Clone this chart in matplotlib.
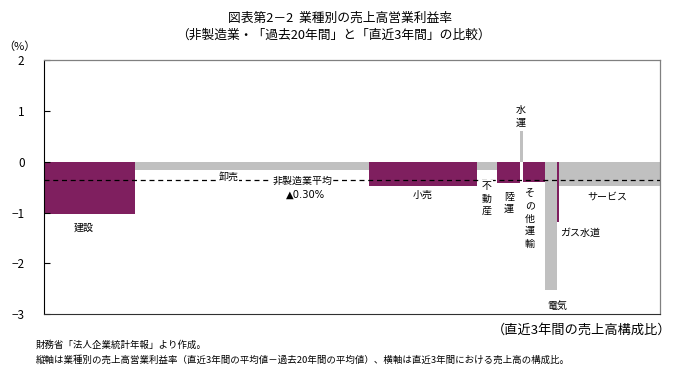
import matplotlib
matplotlib.use("Agg")
import numpy as np
import matplotlib.pyplot as plt

plt.rcParams["font.family"] = ["Noto Sans CJK JP", "DejaVu Sans"]

# ── DATA ──────────────────────────────────────────────────
industries = ["建設", "卸売", "小売", "不動産", "陸運", "水運", "その他運輸", "電気", "ガス水道", "サービス"]
sales_share = [14.7, 38.1, 17.5, 3.3, 3.6, 0.5, 3.7, 1.9, 0.3, 16.4]       # 直近3年間の売上高構成比 (%)
margin_diff = [-1.03, -0.165, -0.48, -0.165, -0.42, 0.60, -0.40, -2.53, -1.175, -0.47]
nonmfg_avg = -0.35
avg_label = "▲0.30%"

PURPLE = "#7f1f5f"
GRAY = "#c0c0c0"

# label placement (x in share %, y in %pt), vertical = one char per line
label_pos = {
    "建設": (6.5, -1.29, False, "center"),
    "卸売": (29.9, -0.29, False, "center"),
    "小売": (61.5, -0.64, False, "center"),
    "不動産": (71.9, -0.72, True, "center"),
    "陸運": (75.5, -0.81, True, "center"),
    "水運": (77.4, 0.90, True, "center"),
    "その他運輸": (78.9, -1.12, True, "center"),
    "電気": (83.3, -2.83, False, "center"),
    "ガス水道": (83.8, -1.39, False, "left"),
    "サービス": (91.4, -0.68, False, "center"),
}

fig = plt.figure(figsize=(6.8, 3.8), dpi=100)
ax = fig.add_axes([0.0647, 0.173, 0.9059, 0.668])

lefts = np.concatenate([[0], np.cumsum(sales_share)[:-1]])
colors = [PURPLE if i % 2 == 0 else GRAY for i in range(len(industries))]
ax.bar(lefts, margin_diff, width=sales_share, align="edge", color=colors, linewidth=0)

ax.axhline(nonmfg_avg, color="black", linestyle=(0, (4, 3)), linewidth=0.9, zorder=3)

for name in industries:
    x, y, vert, ha = label_pos[name]
    txt = "\n".join(name) if vert else name
    bg = dict(facecolor="white", edgecolor="none", pad=0.5) if name in ("卸売", "不動産") else None
    ax.text(x, y, txt, ha=ha, va="center", fontsize=7.2, linespacing=1.3, bbox=bg, zorder=4)

ax.text(41.9, -0.37, "非製造業平均", ha="center", va="center", fontsize=7.2,
        bbox=dict(facecolor="white", edgecolor="none", pad=0.5), zorder=4)
ax.text(42.4, -0.64, avg_label, ha="center", va="center", fontsize=7.2,
        family=["DejaVu Sans", "Noto Sans CJK JP"], zorder=4)

ax.set_xlim(0, 100)
ax.set_ylim(-3, 2)
ax.set_yticks([2, 1, 0, -1, -2, -3])
ax.set_yticklabels(["2", "1", "0", "−1", "−2", "−3"], fontsize=8.5)
ax.set_xticks([])
ax.tick_params(axis="y", direction="in", length=4, width=0.8, pad=14)
for s in ["top", "right"]:
    ax.spines[s].set_color("#808080")
    ax.spines[s].set_linewidth(0.9)
ax.spines["left"].set_color("black")
ax.spines["bottom"].set_color("#303030")

fig.text(0.5, 0.952, "図表第2－2  業種別の売上高営業利益率", ha="center", va="center", fontsize=9.2)
fig.text(0.49, 0.908, "（非製造業・「過去20年間」と「直近3年間」の比較）", ha="center", va="center", fontsize=9.2)
fig.text(0.028, 0.876, "（%）", ha="center", va="center", fontsize=8)
fig.text(0.988, 0.131, "（直近3年間の売上高構成比）", ha="right", va="center", fontsize=9.5)
fig.text(0.052, 0.093, "財務省「法人企業統計年報」より作成。", ha="left", va="center", fontsize=6.8)
fig.text(0.052, 0.053, "縦軸は業種別の売上高営業利益率（直近3年間の平均値－過去20年間の平均値）、横軸は直近3年間における売上高の構成比。",
         ha="left", va="center", fontsize=6.8)

fig.savefig("out.png", dpi=100)
